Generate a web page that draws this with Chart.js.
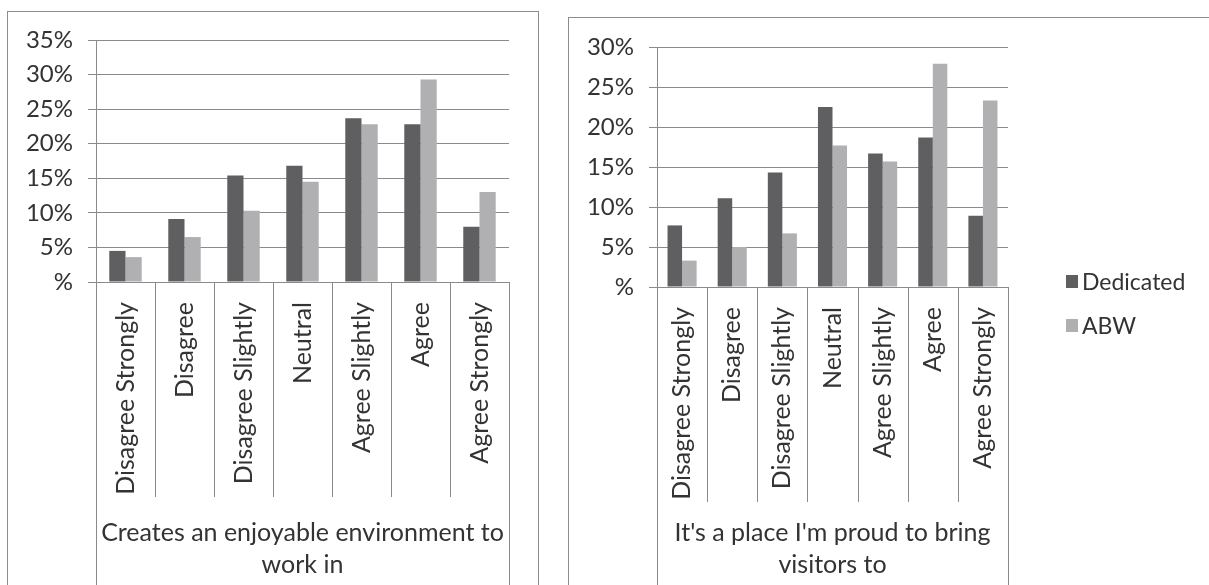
<!DOCTYPE html>
<html>
<head>
<meta charset="utf-8">
<script src="https://cdn.jsdelivr.net/npm/chart.js@4.4.1/dist/chart.umd.min.js"></script>
<style>
  html, body { margin: 0; padding: 0; background: #fff; width: 1209px; height: 585px; overflow: hidden; }
  .frame { position: absolute; border: 1px solid #8c8c8c; box-sizing: border-box; }
  #frameEnjoy { left: 7px; top: 11px; width: 532px; height: 640px; }
  #frameProud { left: 568px; top: 17px; width: 700px; height: 640px; }
  canvas { position: absolute; }
  #enjoyChart { left: 0; top: 0; }
  #proudChart { left: 560px; top: 0; }
  #legend { position: absolute; left: 1066px; top: 266px; font-family: Lato, "Open Sans", sans-serif; font-size: 23px; color: #333; }
  #legend .row { display: flex; align-items: center; height: 30px; margin-bottom: 14px; }
  #legend .key { width: 12px; height: 13px; margin-right: 4px; }
</style>
</head>
<body>
<div class="frame" id="frameEnjoy"></div>
<div class="frame" id="frameProud"></div>
<canvas id="enjoyChart" width="540" height="585"></canvas>
<canvas id="proudChart" width="649" height="585"></canvas>
<div id="legend"></div>
<script>
// Response categories shared by both questions
const categories = ['Disagree Strongly', 'Disagree', 'Disagree Slightly', 'Neutral', 'Agree Slightly', 'Agree', 'Agree Strongly'];
const seriesNames = ['Dedicated', 'ABW'];
const seriesColors = ['#5f5f61', '#b0b0b2'];

// "Creates an enjoyable environment to work in" (% of respondents)
const enjoyTitle = ['Creates an enjoyable environment to', 'work in'];
const enjoyDedicated = [4.5, 9.1, 15.4, 16.8, 23.7, 22.8, 8.0];
const enjoyABW = [3.6, 6.5, 10.3, 14.5, 22.8, 29.3, 13.0];
const enjoyAxisMax = 35;

// "It's a place I'm proud to bring visitors to" (% of respondents)
const proudTitle = ["It's a place I'm proud to bring", 'visitors to'];
const proudDedicated = [7.7, 11.1, 14.3, 22.5, 16.7, 18.7, 8.9];
const proudABW = [3.3, 5.0, 6.7, 17.7, 15.7, 27.9, 23.3];
const proudAxisMax = 30;

// y tick labels: zero is shown as a bare percent sign
const percentLabel = v => (v === 0 ? '%' : v + '%');

const FONT = 'Lato, "Open Sans", sans-serif';
const TEXT = '#333333';
const LINE = '#8a8a8a';

// Vertical separators of the category axis: short ones between the
// answers, full-height ones at both ends of the axis.
const categoryDividers = {
  id: 'categoryDividers',
  afterDraw(chart, args, opts) {
    const x = chart.scales.x;
    const ctx = chart.ctx;
    const n = chart.data.labels.length;
    ctx.save();
    ctx.strokeStyle = opts.color;
    ctx.lineWidth = 1;
    for (let i = 0; i <= n; i++) {
      let px;
      if (i === 0) px = x.left;
      else if (i === n) px = x.right;
      else px = (x.getPixelForValue(i - 1) + x.getPixelForValue(i)) / 2;
      const yEnd = (i === 0 || i === n) ? chart.height : x.top + opts.depth;
      const sx = Math.round(px) + 0.5;
      ctx.beginPath();
      ctx.moveTo(sx, x.top);
      ctx.lineTo(sx, yEnd);
      ctx.stroke();
    }
    ctx.restore();
  }
};

function buildChart(canvasId, title, dedicated, abw, yMax, area, groupFraction) {
  const canvas = document.getElementById(canvasId);
  const W = canvas.width, H = canvas.height;
  return new Chart(canvas, {
    type: 'bar',
    data: {
      labels: categories,
      datasets: [
        { label: seriesNames[0], data: dedicated, backgroundColor: seriesColors[0] },
        { label: seriesNames[1], data: abw, backgroundColor: seriesColors[1] }
      ]
    },
    options: {
      responsive: false,
      animation: false,
      devicePixelRatio: 1,
      categoryPercentage: groupFraction,
      barPercentage: 1.0,
      layout: { padding: { left: 0, top: area.top, right: W - area.right, bottom: 0 } },
      plugins: {
        legend: { display: false },
        tooltip: { enabled: false },
        categoryDividers: { color: LINE, depth: 215 }
      },
      scales: {
        x: {
          grid: { display: false },
          border: { display: false },
          ticks: {
            autoSkip: false,
            minRotation: 90,
            maxRotation: 90,
            padding: 12,
            color: TEXT,
            font: { family: FONT, size: 25 }
          },
          title: {
            display: true,
            text: title,
            color: TEXT,
            font: { family: FONT, size: 25, lineHeight: 1.28 },
            padding: { top: 0, bottom: 4 }
          },
          afterFit(scale) { scale.height = H - area.bottom; }
        },
        y: {
          min: 0,
          max: yMax,
          ticks: {
            stepSize: 5,
            padding: 15,
            color: TEXT,
            font: { family: FONT, size: 24 },
            callback: percentLabel
          },
          grid: { color: LINE, tickLength: 8, lineWidth: 1 },
          border: { display: true, color: LINE },
          afterFit(scale) { scale.width = area.left; }
        }
      }
    },
    plugins: [categoryDividers]
  });
}

const enjoyChart = buildChart('enjoyChart', enjoyTitle, enjoyDedicated, enjoyABW, enjoyAxisMax,
  { left: 96, right: 509, top: 40, bottom: 282 }, 0.55);
const proudChart = buildChart('proudChart', proudTitle, proudDedicated, proudABW, proudAxisMax,
  { left: 97, right: 448, top: 47, bottom: 287 }, 0.58);

// Shared legend built from the chart's own legend items
const legendBox = document.getElementById('legend');
proudChart.options.plugins.legend.labels.generateLabels(proudChart).forEach(item => {
  const row = document.createElement('div');
  row.className = 'row';
  const key = document.createElement('span');
  key.className = 'key';
  key.style.background = item.fillStyle;
  const name = document.createElement('span');
  name.textContent = item.text;
  row.appendChild(key);
  row.appendChild(name);
  legendBox.appendChild(row);
});
</script>
</body>
</html>
